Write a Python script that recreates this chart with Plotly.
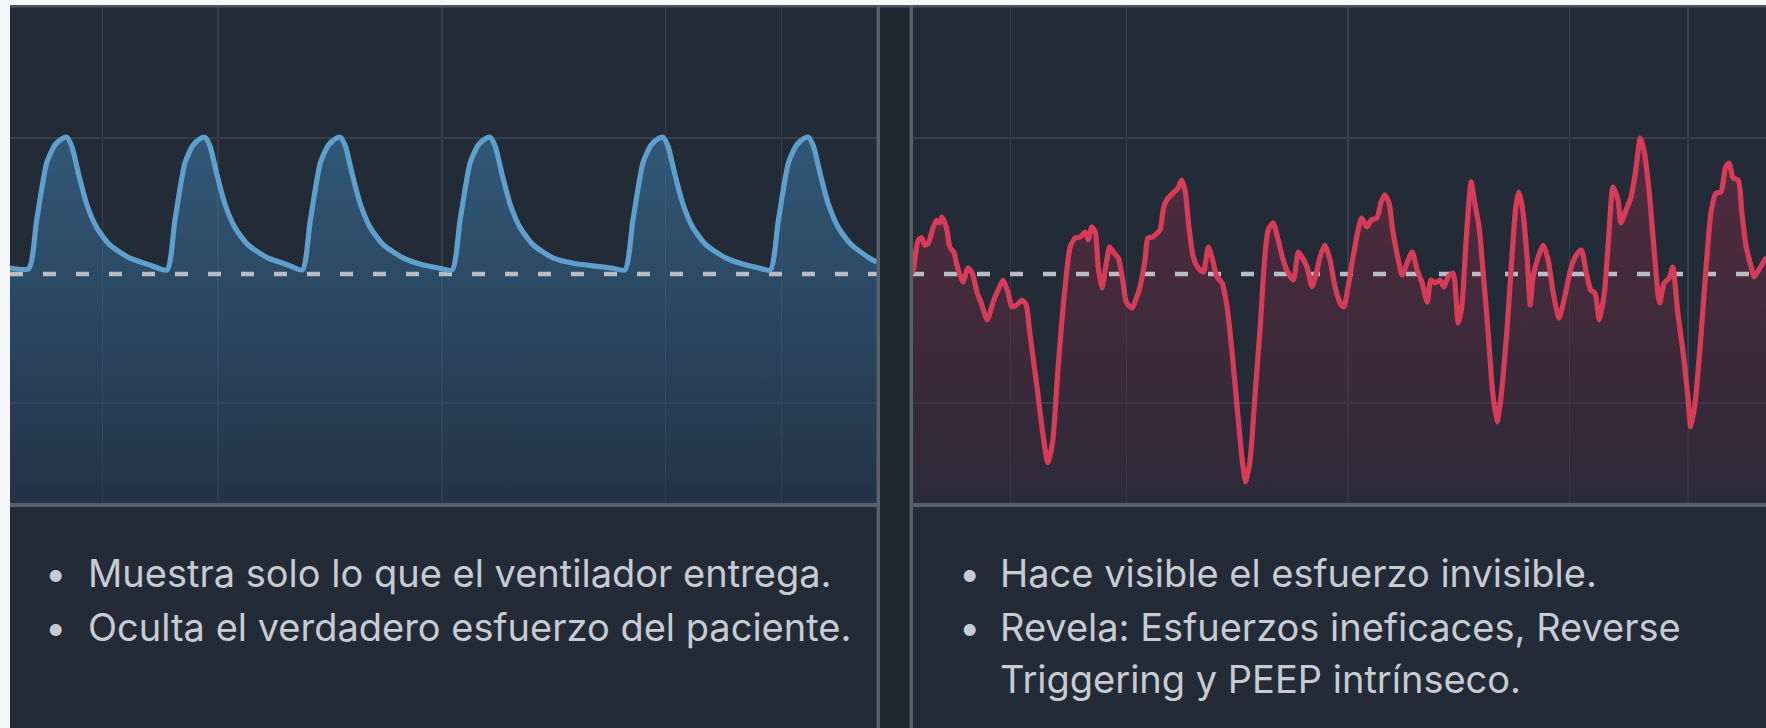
import plotly.graph_objects as go

# ---------------- data (time in s, pressure relative to PEEP) ----------------
LEFT_T = [0.00, 0.26, 0.37, 0.51, 0.62, 0.72, 0.79, 0.86, 0.95, 1.06, 1.20, 1.38, 1.66, 1.94, 2.18,
          2.29, 2.43, 2.54, 2.64, 2.71, 2.78, 2.87, 2.98, 3.12, 3.30, 3.58, 3.86, 4.06,
          4.17, 4.31, 4.42, 4.52, 4.59, 4.66, 4.75, 4.86, 5.00, 5.18, 5.46, 5.74, 5.95, 6.14,
          6.25, 6.39, 6.50, 6.60, 6.67, 6.74, 6.83, 6.94, 7.08, 7.26, 7.54, 7.82, 8.10, 8.35, 8.54,
          8.65, 8.79, 8.90, 9.00, 9.07, 9.14, 9.23, 9.34, 9.48, 9.66, 9.94, 10.22, 10.40, 10.56,
          10.67, 10.81, 10.92, 11.02, 11.09, 11.16, 11.25, 11.36, 11.50, 11.68, 11.96, 12.04]
LEFT_P = [0.45, 0.40, 4.0, 8.3, 9.6, 10.1, 10.2, 9.5, 7.5, 5.3, 3.5, 2.2, 1.2, 0.67, 0.30,
          4.0, 8.3, 9.6, 10.1, 10.2, 9.5, 7.5, 5.3, 3.5, 2.2, 1.2, 0.67, 0.30,
          4.0, 8.3, 9.6, 10.1, 10.2, 9.5, 7.5, 5.3, 3.5, 2.2, 1.2, 0.67, 0.45, 0.30,
          4.0, 8.3, 9.6, 10.1, 10.2, 9.5, 7.5, 5.3, 3.5, 2.2, 1.2, 0.80, 0.60, 0.45, 0.30,
          4.0, 8.3, 9.6, 10.1, 10.2, 9.5, 7.5, 5.3, 3.5, 2.2, 1.2, 0.67, 0.45, 0.30,
          4.0, 8.3, 9.6, 10.1, 10.2, 9.5, 7.5, 5.3, 3.5, 2.2, 1.1, 0.9]

RIGHT_T = [0.00, 0.03, 0.10, 0.15, 0.19, 0.24, 0.31, 0.36, 0.40, 0.43, 0.49, 0.54, 0.60, 0.63, 0.72,
           0.79, 0.85, 0.92, 0.97, 1.06, 1.14, 1.21, 1.28, 1.35, 1.40, 1.47, 1.54, 1.60, 1.65, 1.75,
           1.83, 1.90, 1.97, 2.04, 2.14, 2.21, 2.28, 2.35, 2.42, 2.46, 2.51, 2.56, 2.60, 2.65, 2.72,
           2.76, 2.82, 2.88, 2.94, 2.99, 3.07, 3.11, 3.18, 3.25, 3.29, 3.36, 3.42, 3.46, 3.51, 3.57,
           3.64, 3.71, 3.76, 3.81, 3.86, 3.92, 3.99, 4.06, 4.13, 4.18, 4.25, 4.32, 4.39, 4.46, 4.53,
           4.60, 4.65, 4.71, 4.78, 4.85, 4.90, 4.96, 5.03, 5.10, 5.17, 5.24, 5.31, 5.38, 5.43, 5.50,
           5.57, 5.64, 5.68, 5.75, 5.82, 5.89, 5.96, 6.01, 6.07, 6.14, 6.21, 6.26, 6.33, 6.39, 6.47,
           6.53, 6.58, 6.64, 6.69, 6.76, 6.82, 6.89, 6.96, 7.03, 7.10, 7.17, 7.22, 7.28, 7.35, 7.40,
           7.46, 7.53, 7.60, 7.65, 7.71, 7.78, 7.83, 7.89, 7.94, 8.01, 8.08, 8.14, 8.19, 8.28, 8.35,
           8.40, 8.44, 8.49, 8.56, 8.60, 8.64, 8.71, 8.78, 8.85, 8.92, 9.00, 9.07, 9.17, 9.24, 9.31,
           9.38, 9.44, 9.50, 9.56, 9.63, 9.69, 9.75, 9.82, 9.86, 9.92, 10.00, 10.06, 10.13, 10.18, 10.25,
           10.31, 10.38, 10.40, 10.46, 10.53, 10.58, 10.65, 10.72, 10.79, 10.83, 10.89, 10.97, 11.04, 11.11, 11.18,
           11.25, 11.31, 11.36, 11.42, 11.49, 11.54, 11.60, 11.67, 11.71, 11.79, 11.88]
RIGHT_P = [0.00, 0.30, 2.54, 2.69, 2.16, 2.31, 3.51, 4.03, 3.81, 4.25, 3.51, 2.01, 1.57, 0.82, -0.60,
           0.45, 0.07, -1.42, -2.09, -3.43, -2.09, -1.19, -0.45, -1.42, -2.46, -2.31, -1.94, -2.31, -4.40, -8.43,
           -11.87, -14.10, -12.39, -7.16, -0.97, 2.01, 2.69, 2.76, 3.13, 2.54, 3.51, 3.13, 0.52, -1.04, 1.04,
           2.01, 1.57, 1.19, -0.45, -2.09, -2.54, -2.09, -0.97, 1.04, 2.69, 2.76, 3.06, 3.28, 5.00, 5.67,
           6.04, 6.42, 7.01, 6.12, 3.51, 1.27, 0.45, 0.15, 2.01, 1.27, -0.22, -0.67, -2.46, -5.90, -9.93,
           -13.88, -15.52, -13.88, -8.88, -3.96, 0.30, 3.28, 3.81, 2.54, 1.04, 0.07, -0.45, 1.64, 1.27, 0.52,
           -0.97, 0.30, 1.27, 2.16, 1.04, -0.97, -2.16, -2.46, -0.97, 1.27, 3.28, 4.18, 3.51, 4.03, 4.18,
           5.37, 5.90, 5.30, 3.28, 1.27, -0.07, 0.82, 1.64, 0.30, -0.67, -2.09, -0.45, -0.67, -0.45, -0.97,
           -0.22, 0.07, -3.66, -2.46, 2.54, 6.87, 5.30, 3.51, 0.52, -3.96, -8.88, -11.04, -9.40, -3.96, 1.57,
           5.00, 6.12, 5.00, 1.04, -2.31, -0.22, 1.27, 2.16, 1.04, -1.42, -3.28, -1.94, 0.52, 1.42, 1.79,
           0.07, -1.19, -1.42, -3.43, -1.42, 2.76, 6.49, 5.52, 3.81, 4.63, 5.75, 7.54, 10.15, 9.25, 6.27,
           2.54, -1.72, -2.16, -0.67, -0.30, 0.52, -2.91, -5.67, -9.18, -11.42, -9.63, -4.70, 0.30, 4.55, 6.04,
           6.12, 7.91, 8.28, 7.16, 7.01, 4.55, 2.01, 0.52, -0.22, 0.45, 1.27]

PEEP_LEVEL = 0.0
LEFT_GRID_T = [1.28, 2.89, 6.00, 9.10, 10.71]
RIGHT_GRID_T = [1.38, 2.99, 6.07, 9.15, 10.79]
GRID_P = [-9.63, 10.15]

LEFT_TEXT = ["Muestra solo lo que el ventilador entrega.",
             "Oculta el verdadero esfuerzo del paciente."]
LEFT_BULLET = [True, True]
RIGHT_TEXT = ["Hace visible el esfuerzo invisible.",
              "Revela: Esfuerzos ineficaces, Reverse",
              "Triggering y PEEP intrínseco."]
RIGHT_BULLET = [True, True, False]

assert len(LEFT_T) == len(LEFT_P)
assert len(RIGHT_T) == len(RIGHT_P)

# ---------------- styling ----------------
W, H = 1766, 728
FLOOR, CEIL = -17.24, 20.0
LEFT_RANGE = [0, 12.04]
RIGHT_RANGE = [0, 11.875]

BG = "#222b36"
GAP = "#1e2630"
GRID = "#35404d"
BORDER = "#56616d"
TEXT = "#c7ccd3"
BLUE = "#5e9fcc"
RED = "#d83b58"
DASH = "#b8bdc5"


def fx(p):
    return p / W


def fy(p):
    return 1 - p / H


fig = go.Figure()


def add_panel(t, p, xr, xa, ya, line_color, grad):
    fig.add_trace(go.Scatter(x=[xr[0], xr[1]], y=[FLOOR, FLOOR], mode="lines",
                             line=dict(width=0), hoverinfo="skip", showlegend=False,
                             xaxis=xa, yaxis=ya))
    fig.add_trace(go.Scatter(x=t, y=p, mode="lines",
                             line=dict(width=0, shape="spline", smoothing=0.6),
                             fill="tonexty",
                             fillgradient=dict(type="vertical", start=FLOOR, stop=max(p),
                                               colorscale=grad),
                             hoverinfo="skip", showlegend=False, xaxis=xa, yaxis=ya))
    fig.add_trace(go.Scatter(x=[xr[0], xr[1]], y=[PEEP_LEVEL, PEEP_LEVEL], mode="lines",
                             line=dict(color=DASH, width=4.5, dash="13px,20px"),
                             hoverinfo="skip", showlegend=False, xaxis=xa, yaxis=ya))
    fig.add_trace(go.Scatter(x=t, y=p, mode="lines",
                             line=dict(color=line_color, width=5.2, shape="spline", smoothing=0.6),
                             hoverinfo="skip", showlegend=False, xaxis=xa, yaxis=ya))


add_panel(LEFT_T, LEFT_P, LEFT_RANGE, "x", "y", BLUE,
          [[0, "rgba(37,56,81,0.6)"], [0.63, "rgba(50,96,134,0.6)"], [1, "rgba(58,118,163,0.6)"]])
add_panel(RIGHT_T, RIGHT_P, RIGHT_RANGE, "x2", "y2", RED,
          [[0, "rgba(50,42,59,0.6)"], [0.63, "rgba(92,42,62,0.6)"], [1, "rgba(112,45,70,0.6)"]])

axis_common = dict(showticklabels=False, ticks="", zeroline=False, showline=False,
                   showgrid=True, gridcolor=GRID, gridwidth=1.3, fixedrange=True)

fig.update_layout(
    width=W, height=H,
    margin=dict(l=0, r=0, t=0, b=0),
    paper_bgcolor="#f4f6f8",
    plot_bgcolor="rgba(0,0,0,0)",
    showlegend=False,
    xaxis=dict(domain=[fx(10), fx(877)], range=LEFT_RANGE, tickvals=LEFT_GRID_T,
               anchor="y", **axis_common),
    yaxis=dict(domain=[fy(505), fy(6)], range=[FLOOR, CEIL], tickvals=GRID_P,
               anchor="x", **axis_common),
    xaxis2=dict(domain=[fx(911), 1], range=RIGHT_RANGE, tickvals=RIGHT_GRID_T,
                anchor="y2", **axis_common),
    yaxis2=dict(domain=[fy(505), fy(6)], range=[FLOOR, CEIL], tickvals=GRID_P,
                anchor="x2", **axis_common),
)


def rect(x0, x1, y0, y1, color, layer):
    return dict(type="rect", xref="paper", yref="paper",
                x0=fx(x0), x1=fx(x1), y0=fy(y1), y1=fy(y0),
                fillcolor=color, line=dict(width=0), layer=layer)


fig.update_layout(shapes=[
    rect(10, W, 5, H, BG, "below"),
    rect(879, 910, 5, H, GAP, "below"),
    rect(10, W, 5, 7.5, "#4b5562", "above"),
    rect(10, 878, 503, 507, BORDER, "above"),
    rect(911, W, 503, 507, BORDER, "above"),
    rect(876.5, 880, 5, H, BORDER, "above"),
    rect(909.5, 913, 5, H, BORDER, "above"),
])

FONT = dict(family="Inter, 'Liberation Sans', Arial, sans-serif", size=38, color=TEXT)
LINE_CENTERS = [573, 627, 679]
annotations = []


def add_lines(texts, bullets, bullet_x, text_x):
    for i, (txt, b) in enumerate(zip(texts, bullets)):
        yc = LINE_CENTERS[i]
        if b:
            annotations.append(dict(xref="paper", yref="paper", x=fx(bullet_x), y=fy(yc),
                                    text="•", showarrow=False, xanchor="center",
                                    yanchor="middle", font=FONT))
        annotations.append(dict(xref="paper", yref="paper", x=fx(text_x), y=fy(yc),
                                text=txt, showarrow=False, xanchor="left",
                                yanchor="middle", font=FONT))


add_lines(LEFT_TEXT, LEFT_BULLET, 56, 86)
add_lines(RIGHT_TEXT, RIGHT_BULLET, 969, 998)
fig.update_layout(annotations=annotations)

fig.write_html("out.html",
               config={"displayModeBar": False, "staticPlot": True},
               post_script="document.body.style.margin='0';document.body.style.overflow='hidden';")
